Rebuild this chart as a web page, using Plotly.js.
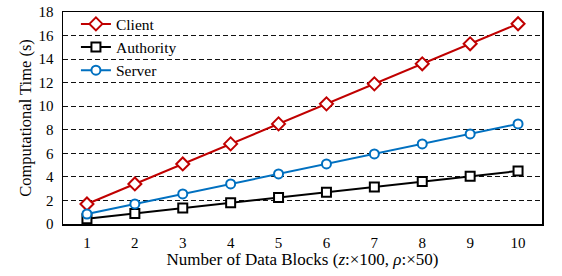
<!DOCTYPE html>
<html>
<head>
<meta charset="utf-8">
<script src="https://cdn.plot.ly/plotly-3.0.1.min.js"></script>
<style>html,body{margin:0;padding:0;background:#fff;}#chart{width:562px;height:276px;}</style>
</head>
<body>
<div id="chart"></div>
<script>
const blocks = [1, 2, 3, 4, 5, 6, 7, 8, 9, 10];
const client = [1.7, 3.4, 5.1, 6.8, 8.5, 10.2, 11.9, 13.6, 15.3, 17.0];
const authority = [0.45, 0.9, 1.35, 1.8, 2.25, 2.7, 3.15, 3.6, 4.05, 4.5];
const server = [0.85, 1.7, 2.55, 3.4, 4.25, 5.1, 5.95, 6.8, 7.65, 8.5];
const yTicks = [0, 2, 4, 6, 8, 10, 12, 14, 16, 18];

const fam = 'Liberation Serif';

function series(name, y, color, symbol, size) {
  return {
    x: blocks, y: y, name: name, type: 'scatter', mode: 'lines+markers',
    line: {color: color, width: 2, dash: 'solid'},
    marker: {symbol: symbol, size: size, color: '#ffffff', line: {color: color, width: 2}}
  };
}

const data = [
  series('Client', client, '#C00000', 'diamond', 10),
  series('Authority', authority, '#000000', 'square', 9),
  series('Server', server, '#0070C0', 'circle', 9)
];

const layout = {
  width: 562, height: 276,
  margin: {l: 63, r: 20, t: 12, b: 52, autoexpand: false},
  paper_bgcolor: '#fff', plot_bgcolor: '#fff',
  font: {family: fam, size: 15, color: '#000'},
  showlegend: true,
  legend: {x: 0.027, y: 1.022, xanchor: 'left', yanchor: 'top', bgcolor: 'rgba(0,0,0,0)',
           font: {family: fam, size: 15.5, color: '#000'}, tracegroupgap: 0, itemwidth: 30},
  xaxis: {
    range: [0.5, 10.5], tickvals: blocks, ticktext: blocks.map(String),
    showgrid: false, zeroline: false, showline: true, linecolor: '#000', linewidth: 1.5, mirror: true,
    ticks: 'outside', ticklen: 4, tickcolor: 'rgba(0,0,0,0)',
    tickfont: {family: fam, size: 15, color: '#000'},
    title: {text: 'Number of Data Blocks (<i>z</i>:×100, <i>ρ</i>:×50)', font: {family: fam, size: 17, color: '#000'}, standoff: 3}
  },
  yaxis: {
    range: [0, 18], tickvals: yTicks, ticktext: yTicks.map(String),
    showgrid: true, gridcolor: '#111', griddash: '5px,3px', gridwidth: 1,
    zeroline: false, showline: true, linecolor: '#000', linewidth: 1.5, mirror: true,
    ticks: 'outside', ticklen: 5, tickcolor: 'rgba(0,0,0,0)',
    tickfont: {family: fam, size: 15, color: '#000'},
    title: {text: 'Computational Time (s)', font: {family: fam, size: 16.5, color: '#000'}, standoff: 2}
  }
};

Plotly.newPlot('chart', data, layout, {displayModeBar: false, staticPlot: true});
</script>
</body>
</html>
